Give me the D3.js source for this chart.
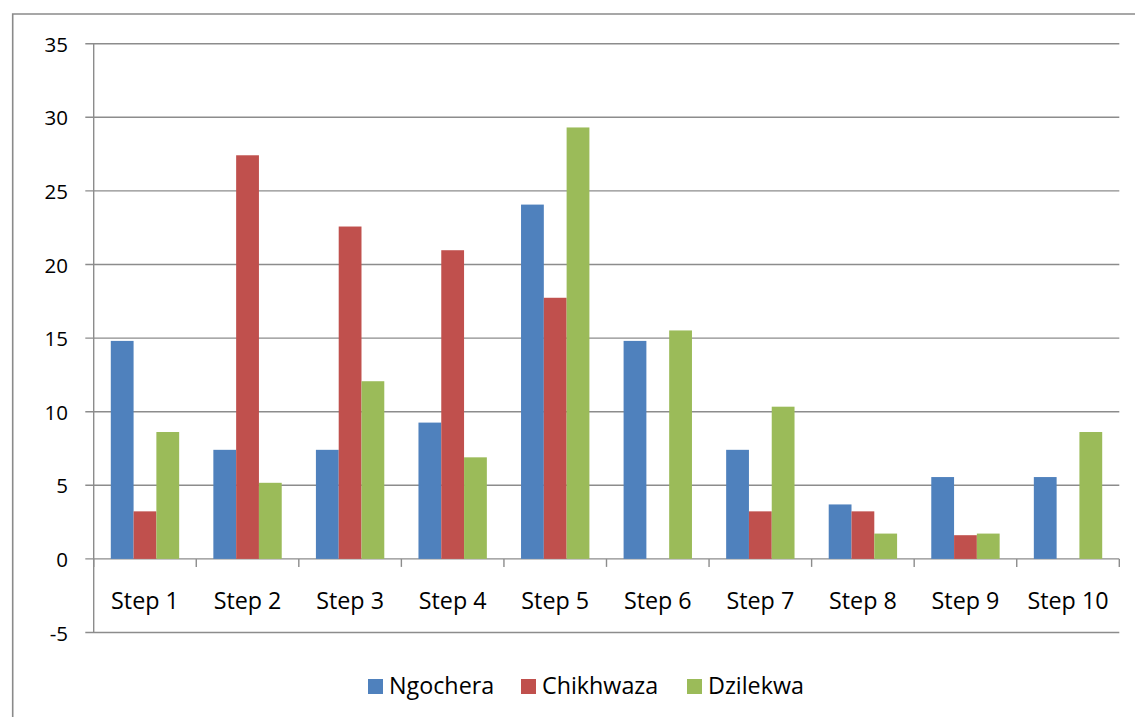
<!DOCTYPE html>
<html>
<head>
<meta charset="utf-8">
<script src="https://cdn.jsdelivr.net/npm/d3@7"></script>
<style>
  html, body { margin: 0; padding: 0; background: #fff; }
  svg { display: block; }
  text { font-family: "Open Sans", "Noto Sans", sans-serif; fill: #000; }
</style>
</head>
<body>
<svg id="chart" width="1135" height="717"></svg>
<script>
// Categories and series (percent per step)
const categories = ["Step 1", "Step 2", "Step 3", "Step 4", "Step 5", "Step 6", "Step 7", "Step 8", "Step 9", "Step 10"];
const seriesNames = ["Ngochera", "Chikhwaza", "Dzilekwa"];
const ngochera  = [14.81, 7.41, 7.41, 9.26, 24.07, 14.81, 7.41, 3.70, 5.56, 5.56];
const chikhwaza = [3.23, 27.42, 22.58, 20.97, 17.74, 0, 3.23, 3.23, 1.61, 0];
const dzilekwa  = [8.62, 5.17, 12.07, 6.90, 29.31, 15.52, 10.34, 1.72, 1.72, 8.62];
const yTicks = [-5, 0, 5, 10, 15, 20, 25, 30, 35];
const colors = ["#4F81BD", "#C0504D", "#9BBB59"];

const seriesValues = [ngochera, chikhwaza, dzilekwa];
const svg = d3.select("#chart");
const yFont = "20.5px";
const labelFont = "23.3px";

// Outer chart frame
svg.append("path")
  .attr("d", "M12.7,717 L12.7,14 L1135,14")
  .attr("fill", "none").attr("stroke", "#8a8a8a").attr("stroke-width", 1.6);

const plot = { left: 93.7, right: 1119.3, top: 43.7, bottom: 632.5 };

const x = d3.scaleBand().domain(categories).range([plot.left, plot.right]);
const y = d3.scaleLinear().domain([-5, 35]).range([plot.bottom, plot.top]);
const inner = d3.scaleBand().domain(d3.range(seriesNames.length))
  .range([0, x.bandwidth()]).paddingInner(0).paddingOuter(0.75);

// Horizontal gridlines with left tick stubs
svg.append("g").selectAll("line").data(yTicks).join("line")
  .attr("x1", plot.left - 8.4).attr("x2", plot.right)
  .attr("y1", d => y(d)).attr("y2", d => y(d))
  .attr("stroke", "#8c8c8c").attr("stroke-width", 1.4);

// Y tick labels
svg.append("g").selectAll("text").data(yTicks).join("text")
  .attr("x", 68).attr("y", d => y(d))
  .attr("text-anchor", "end").attr("dominant-baseline", "central")
  .style("font-size", yFont)
  .text(d => d);

// Bars
const g = svg.append("g");
seriesValues.forEach((vals, si) => {
  g.append("g").selectAll("rect").data(vals).join("rect")
    .attr("x", (d, i) => x(categories[i]) + inner(si))
    .attr("width", inner.bandwidth())
    .attr("y", d => y(Math.max(0, d)))
    .attr("height", d => Math.abs(y(d) - y(0)))
    .attr("fill", colors[si]);
});

// Vertical axis line
svg.append("line")
  .attr("x1", plot.left).attr("x2", plot.left)
  .attr("y1", plot.top).attr("y2", plot.bottom)
  .attr("stroke", "#8c8c8c").attr("stroke-width", 1.4);

// Category axis at zero with ticks between categories
const zeroY = y(0);
const bounds = categories.map(c => x(c)).concat([plot.right]);
svg.append("g").selectAll("line").data(bounds).join("line")
  .attr("x1", d => d).attr("x2", d => d)
  .attr("y1", zeroY).attr("y2", zeroY + 8)
  .attr("stroke", "#8c8c8c").attr("stroke-width", 1.4);

svg.append("g").selectAll("text").data(categories).join("text")
  .attr("x", d => x(d) + x.bandwidth() / 2).attr("y", 608.7)
  .attr("text-anchor", "middle")
  .style("font-size", labelFont)
  .text(d => d);

// Legend
const legendX = [368, 521, 687];
const legend = svg.append("g").selectAll("g").data(seriesNames).join("g")
  .attr("transform", (d, i) => `translate(${legendX[i]},679)`);
legend.append("rect").attr("width", 15).attr("height", 15).attr("fill", (d, i) => colors[i]);
legend.append("text").attr("x", 21).attr("y", 15)
  .style("font-size", labelFont)
  .text(d => d);
</script>
</body>
</html>
